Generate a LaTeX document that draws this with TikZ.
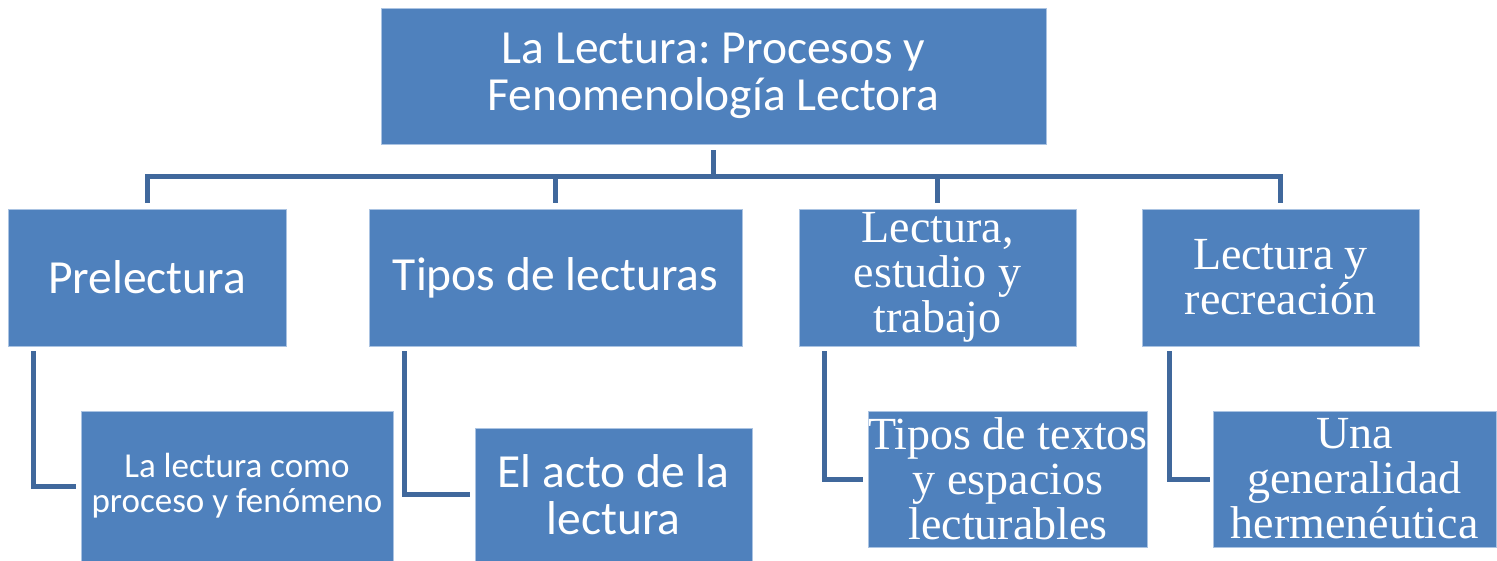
\documentclass[tikz,border=0pt]{standalone}
\usepackage{fontspec}
\setmainfont{Liberation Serif}
\newfontfamily\calib{Carlito}
\usetikzlibrary{calc}
\frenchspacing
\definecolor{boxfill}{RGB}{79,129,189}
\definecolor{boxedge}{RGB}{170,195,226}
\definecolor{linecol}{RGB}{64,104,156}
\tikzset{
  box/.style={draw=boxedge, line width=0.8pt, fill=boxfill, text=white, align=center, inner sep=0pt},
  bigsans/.style={font=\calib\fontsize{47.5}{47}\selectfont},
  smallsans/.style={font=\calib\fontsize{35}{35}\selectfont},
  bigserif/.style={font=\fontsize{46}{45}\selectfont},
  conn/.style={draw=linecol, line width=5pt},
}
\begin{document}
\begin{tikzpicture}[x=1pt,y=-1pt]
\frenchspacing
\useasboundingbox (0,0) rectangle (1497,561);
% top
\node[box,bigsans,minimum width=665pt,minimum height=136pt] (top) at (713.5,76) {La Lectura: Procesos y\\Fenomenología Lectora};
% level 1
\node[box,bigsans,minimum width=278pt,minimum height=137pt] (p1) at (147,277.5) {Prelectura};
\node[box,bigsans,minimum width=373pt,minimum height=137pt] (p2) at (555.5,277.5) {Tipos de lecturas};
\node[box,bigserif,minimum width=277pt,minimum height=137pt] (p3) at (937.5,277.5) {Lectura,\\estudio y\\trabajo};
\node[box,bigserif,minimum width=277pt,minimum height=137pt] (p4) at (1280.5,277.5) {Lectura y\\recreación};
% level 2
\node[box,smallsans,minimum width=312pt,minimum height=150pt] (c1) at (237,486) {La lectura como\\proceso y fenómeno};
\node[box,bigsans,minimum width=277pt,minimum height=133pt] (c2) at (613.5,494.5) {El acto de la\\lectura};
\node[box,bigserif,minimum width=278pt,minimum height=136pt] (c3) at (1008,479) {Tipos de textos\\y espacios\\lecturables};
\node[box,bigserif,minimum width=283pt,minimum height=136pt] (c4) at (1354.5,479) {Una\\generalidad\\hermenéutica};
% bus
\coordinate (bus) at (0,177);
\foreach \c in {p1,p2,p3,p4}{
  \draw[conn] ($(top.south)+(0,6)$) -- (top.south |- bus) -| ($(\c.north)+(0,-6)$);
}
% level 2 connectors
\draw[conn] ($(p1.south west)+(26,5)$) |- ($(c1.west)+(-5,0)$);
\draw[conn] ($(p2.south west)+(35.5,5)$) |- ($(c2.west)+(-5,0)$);
\draw[conn] ($(p3.south west)+(26,5)$) |- ($(c3.west)+(-5,0)$);
\draw[conn] ($(p4.south west)+(28,5)$) |- ($(c4.west)+(-3,0)$);
\end{tikzpicture}
\end{document}
